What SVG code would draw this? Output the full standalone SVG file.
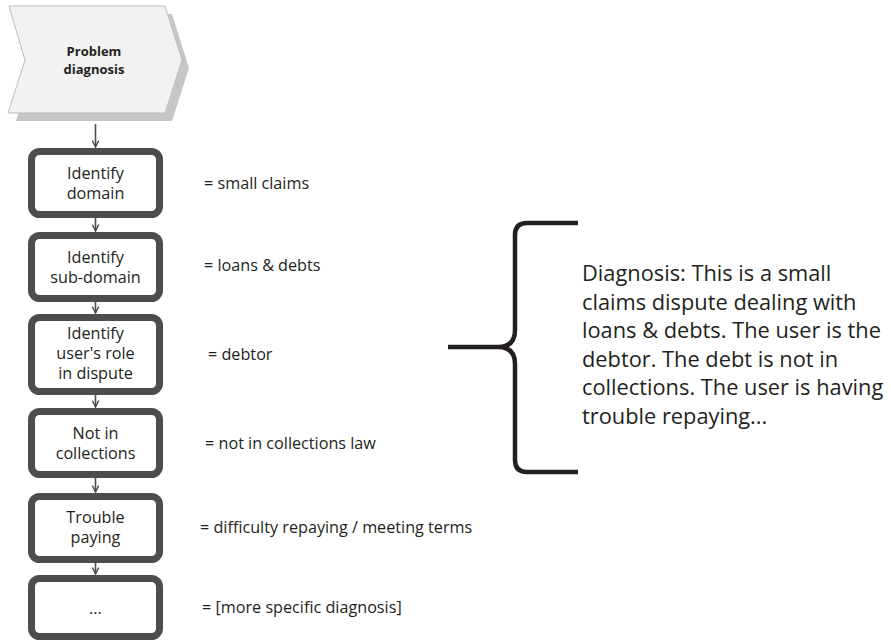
<svg xmlns="http://www.w3.org/2000/svg" width="891" height="642" viewBox="0 0 891 642">
<defs>
<style>
.box{fill:#ffffff;stroke:#4d4d4d;stroke-width:7}
.bt{font-family:"Open Sans","Liberation Sans",sans-serif;font-size:16.2px;fill:#231f20;text-anchor:middle}
.lbl{font-family:"Open Sans","Liberation Sans",sans-serif;font-size:16.2px;fill:#231f20}
.diag{font-family:"Open Sans","Liberation Sans",sans-serif;font-size:21.8px;fill:#231f20}
.ct{font-family:"Open Sans","Liberation Sans",sans-serif;font-size:13px;font-weight:bold;fill:#231f20;text-anchor:middle}
.conn{stroke:#4d4d4d;stroke-width:1.6;fill:none}
</style>
<marker id="ah" viewBox="0 0 10 10" refX="9" refY="5" markerWidth="8" markerHeight="8" markerUnits="userSpaceOnUse" orient="auto">
<path d="M1,1 L9,5 L1,9" fill="none" stroke="#4d4d4d" stroke-width="1.8"/>
</marker>
</defs>
<rect width="891" height="642" fill="#ffffff"/>

<g id="problem-diagnosis">
<polygon points="16,14 172,14 189,68 172,121 16,121 32,68" fill="#c6c6c6"/>
<polygon points="9,6 165,6 182,60 165,113 8,113 25,60" fill="#f2f2f2" stroke="#bdbdbd" stroke-width="1"/>
<text class="ct" x="94" y="56">Problem</text>
<text class="ct" x="94" y="74">diagnosis</text>
</g>

<g id="connectors">
<line class="conn" x1="95.5" y1="124" x2="95.5" y2="147" marker-end="url(#ah)"/>
<line class="conn" x1="95.5" y1="218" x2="95.5" y2="231" marker-end="url(#ah)"/>
<line class="conn" x1="95.5" y1="302" x2="95.5" y2="313" marker-end="url(#ah)"/>
<line class="conn" x1="95.5" y1="395" x2="95.5" y2="407" marker-end="url(#ah)"/>
<line class="conn" x1="95.5" y1="478" x2="95.5" y2="492" marker-end="url(#ah)"/>
<line class="conn" x1="95.5" y1="563" x2="95.5" y2="574" marker-end="url(#ah)"/>
</g>

<g id="identify-domain">
<rect class="box" x="31.5" y="151.5" width="128" height="63" rx="8"/>
<text class="bt" x="95.5" y="179">Identify</text>
<text class="bt" x="95.5" y="199">domain</text>
</g>
<g id="identify-sub-domain">
<rect class="box" x="31.5" y="235.5" width="128" height="63" rx="8"/>
<text class="bt" x="95.5" y="263">Identify</text>
<text class="bt" x="95.5" y="283">sub-domain</text>
</g>
<g id="identify-role">
<rect class="box" x="31.5" y="317.5" width="128" height="74" rx="8"/>
<text class="bt" x="95.5" y="339">Identify</text>
<text class="bt" x="95.5" y="359">user's role</text>
<text class="bt" x="95.5" y="379">in dispute</text>
</g>
<g id="not-in-collections">
<rect class="box" x="31.5" y="411.5" width="128" height="63" rx="8"/>
<text class="bt" x="95.5" y="439">Not in</text>
<text class="bt" x="95.5" y="459">collections</text>
</g>
<g id="trouble-paying">
<rect class="box" x="31.5" y="496.5" width="128" height="63" rx="8"/>
<text class="bt" x="95.5" y="523">Trouble</text>
<text class="bt" x="95.5" y="543">paying</text>
</g>
<g id="more">
<rect class="box" x="31.5" y="578.5" width="128" height="58" rx="8"/>
<text class="bt" x="95.5" y="614">...</text>
</g>

<g id="labels">
<text class="lbl" x="204" y="189">= small claims</text>
<text class="lbl" x="204" y="271">= loans &amp; debts</text>
<text class="lbl" x="208" y="360">= debtor</text>
<text class="lbl" x="205" y="449">= not in collections law</text>
<text class="lbl" x="200" y="533">= difficulty repaying / meeting terms</text>
<text class="lbl" x="202" y="613">= [more specific diagnosis]</text>
</g>

<g id="brace">
<path d="M578,223 H527 Q515,223 515,235 V330 Q515,347 498,347 H448 M498,347 Q515,347 515,364 V460 Q515,472 527,472 H578" fill="none" stroke="#231f20" stroke-width="4.5"/>
</g>

<g id="diagnosis">
<text class="diag" x="582" y="281">Diagnosis: This is a small</text>
<text class="diag" x="582" y="309.5">claims dispute dealing with</text>
<text class="diag" x="582" y="338">loans &amp; debts. The user is the</text>
<text class="diag" x="582" y="366.5">debtor. The debt is not in</text>
<text class="diag" x="582" y="395">collections. The user is having</text>
<text class="diag" x="582" y="423.5">trouble repaying...</text>
</g>
</svg>
